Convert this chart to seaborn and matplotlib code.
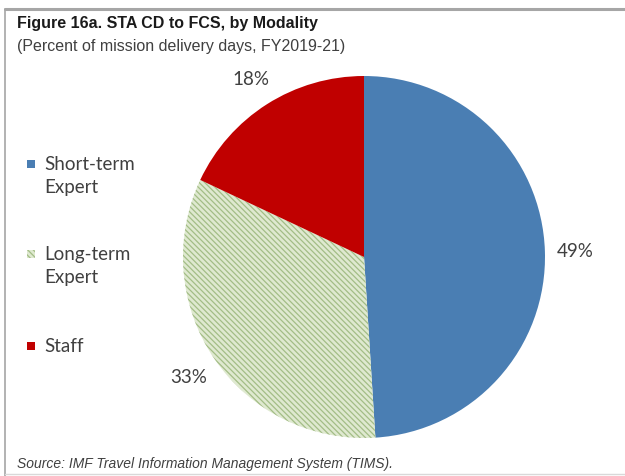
import matplotlib
matplotlib.use("Agg")
import matplotlib.pyplot as plt
from matplotlib.lines import Line2D
from matplotlib.patches import Rectangle
import seaborn as sns

sns.set_theme(style="white")
plt.rcParams["font.family"] = ["Liberation Sans", "DejaVu Sans"]
plt.rcParams["hatch.linewidth"] = 0.9

# Data
modalities = ["Short-term\nExpert", "Long-term\nExpert", "Staff"]
shares = [49, 33, 18]
colors = ["#4a7eb3", "#dfe9d0", "#c00000"]
hatches = [None, "\\\\\\\\\\\\", None]
hatch_color = "#a3bd86"

W, H = 625, 477
fig = plt.figure(figsize=(W / 100, H / 100), dpi=100)

# Pie axes: centre (364, 258) px, radius 181 px
cx, cy, r = 364, 258, 181
ax = fig.add_axes([(cx - r) / W, (H - cy - r) / H, 2 * r / W, 2 * r / H])
wedges, texts, autotexts = ax.pie(
    shares, colors=colors, startangle=90, counterclock=False,
    autopct="%d%%", pctdistance=1.17,
    wedgeprops=dict(linewidth=0),
    textprops=dict(color="#404040", fontsize=13.5, family=["Lato", "DejaVu Sans"]),
)
for w, h in zip(wedges, hatches):
    if h:
        w.set_hatch(h)
        w.set_edgecolor(hatch_color)
        w.set_linewidth(0)
ax.set_xlim(-1, 1)
ax.set_ylim(-1, 1)
ax.set_aspect("equal")
ax.axis("off")

# Legend drawn as square markers beside two-line labels
legend_y = [165, 255, 347]
for label, col, h, y in zip(modalities, colors, hatches, legend_y):
    sq = Rectangle((27 / W, 1 - (y + 4) / H), 8 / W, 8 / H,
                   transform=fig.transFigure, facecolor=col,
                   hatch=h, edgecolor=hatch_color if h else col, linewidth=0)
    fig.add_artist(sq)
    fig.text(44 / W, 1 - (y - 9) / H, label, fontsize=13.5,
             family=["Lato", "DejaVu Sans"], color="#404040",
             va="top", ha="left", linespacing=1.45)

# Titles
fig.text(17 / W, 1 - 28 / H, "Figure 16a. STA CD to FCS, by Modality",
         fontsize=11.5, fontweight="bold", color="#1a1a1a", va="baseline")
fig.text(17 / W, 1 - 51 / H, "(Percent of mission delivery days, FY2019-21)",
         fontsize=11.5, color="#404040", va="baseline")
fig.text(17 / W, 1 - 468 / H, "Source: IMF Travel Information Management System (TIMS).",
         fontsize=10, style="italic", color="#404040", va="baseline")

# Frame lines
fig.add_artist(Line2D([5 / W, 1], [1 - 9.5 / H, 1 - 9.5 / H], color="#a6a6a6", lw=2.2))
fig.add_artist(Line2D([5 / W, 5 / W], [1 - 9.5 / H, 0], color="#a6a6a6", lw=1.2))
fig.add_artist(Line2D([5 / W, 1], [1 - 475 / H, 1 - 475 / H], color="#d9d9d9", lw=1))

fig.savefig("out.png", dpi=100)
